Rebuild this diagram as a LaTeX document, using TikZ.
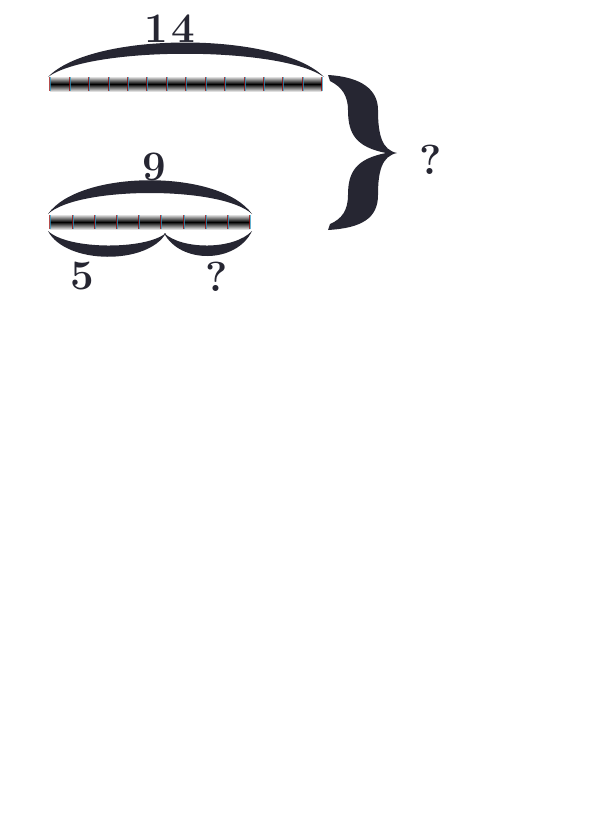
\documentclass[tikz,border=0pt]{standalone}
\usepackage{tikz}
\usetikzlibrary{positioning}
\definecolor{inkdark}{RGB}{38,38,50}
\tikzset{
	numlabel/.style={font=\fontsize{42}{42}\selectfont\bfseries, text=inkdark, inner sep=0pt},
	arcfill/.style={fill=inkdark, draw=none},
	barshade/.style={top color=gray!25, bottom color=gray!25, middle color=black, draw=none},
	redtick/.style={red!60!black, line width=0.4pt, opacity=0.7},
	cyantick/.style={cyan!60!teal, line width=0.4pt, opacity=0.7}
}
\begin{document}
\begin{tikzpicture}[x=1pt, y=-1pt]
		\useasboundingbox[fill=white] (0,0) rectangle (595,822);

		% Long bar with 14 cells
		\def\topleft{50}  \def\topright{322}
		\shade[barshade] (\topleft,77) rectangle (\topright,91);
		\foreach \i in {0,...,14} {
				\draw[redtick] ({\topleft+\i*(\topright-\topleft)/14-0.5},77) -- ++(0,14);
				\draw[cyantick] ({\topleft+\i*(\topright-\topleft)/14+0.5},77) -- ++(0,14);
			}

		% Short bar with 9 cells
		\def\botleft{50}  \def\botright{250}
		\shade[barshade] (\botleft,215) rectangle (\botright,229);
		\foreach \i in {0,...,9} {
				\draw[redtick] ({\botleft+\i*(\botright-\botleft)/9-0.5},215) -- ++(0,14);
				\draw[cyantick] ({\botleft+\i*(\botright-\botleft)/9+0.5},215) -- ++(0,14);
			}

		% Arc over the long bar
		\fill[arcfill] (48,77) .. controls (92,31) and (278,31) .. (324,77)
		.. controls (280,46) and (90,46) .. cycle;
		\node[numlabel] (fourteen) at (170,29) {1\kern3pt4};

		% Arc over the short bar
		\fill[arcfill] (48,214) .. controls (80,169) and (220,169) .. (252,214)
		.. controls (222,186) and (78,186) .. cycle;
		\node[numlabel] (nine) at (154,167) {9};

		% Two arcs under the short bar
		\fill[arcfill] (48,231) .. controls (66,265) and (148,265) .. (166,233)
		.. controls (146,250) and (68,250) .. cycle;
		\fill[arcfill] (164,233) .. controls (180,264) and (236,264) .. (252,231)
		.. controls (234,250) and (182,250) .. cycle;
		\node[numlabel] (five) at (82,276) {5};
		\node[numlabel] (partq) at (217,277) {?};

		% Big brace joining both bars
		\fill[arcfill] (328,75) .. controls (362,77) and (378,90) .. (378,110)
		.. controls (378,135) and (382,150) .. (397,153)
		.. controls (382,156) and (378,171) .. (378,195)
		.. controls (378,218) and (362,228) .. (328,230)
		-- (330,224)
		.. controls (342,219) and (348,210) .. (348,195)
		.. controls (348,172) and (356,159) .. (386,153)
		.. controls (356,147) and (348,134) .. (348,110)
		.. controls (348,96) and (342,87) .. (330,81) -- cycle;
		\node[numlabel] (totalq) at (431,160) {?};
	\end{tikzpicture}
\end{document}
